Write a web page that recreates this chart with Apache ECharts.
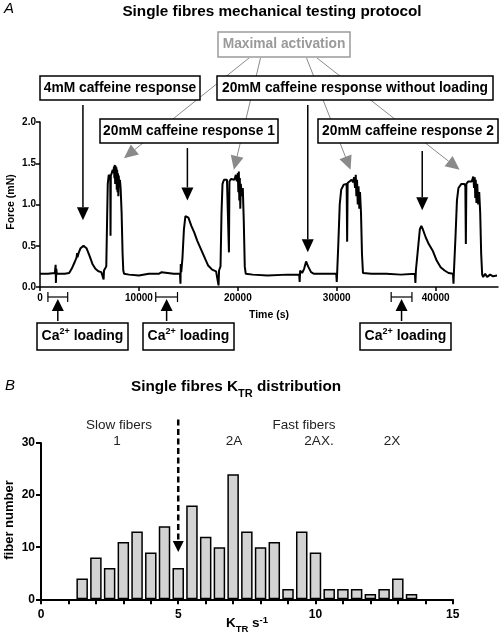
<!DOCTYPE html>
<html><head><meta charset="utf-8">
<script src="https://cdn.jsdelivr.net/npm/echarts@6/dist/echarts.min.js"></script>
<style>html,body{margin:0;padding:0;background:#fff}#c{width:500px;height:638px}</style>
</head><body><div id="c"></div>
<script>
// ---------- Panel A data: force trace ----------
const timeS = [0,800,1500,1580,1610,1650,1700,2500,2950,3200,3500,3700,3750,3790,3900,4100,4400,4700,5000,5300,5600,5900,6200,6400,6430,6470,6600,
6700,6780,6850,6950,7050,7100,7130,7160,7250,7350,7420,7480,7520,7560,7600,7640,7680,7720,7760,7800,7840,7880,7920,7960,8000,8080,8150,8250,8350,8420,8500,
9000,10000,11000,12000,12300,12400,13500,14150,14200,14230,14280,
14400,14550,14700,14850,15000,15300,15600,15900,16300,16700,17000,17400,17800,18000,18050,18100,
18250,18350,18450,18600,18900,19050,19100,19150,19300,19500,19650,19800,19900,20000,20050,20100,20150,20200,20250,20300,20400,20500,20600,20700,20800,
21500,23000,25000,26200,26250,26300,26500,26700,26900,27100,27400,27700,29000,29950,30000,30050,
30150,30300,30450,30700,30900,31000,31050,31100,31300,31500,31650,31750,31850,31920,31980,32050,32120,32200,32280,32350,32450,32550,32650,
33500,35000,36500,37900,37950,38000,
38200,38400,38550,38700,39000,39300,39700,40100,40500,40900,41300,41750,41800,41850,
42000,42150,42300,42600,42900,43000,43050,43100,43300,43500,43650,43800,43880,43950,44000,44050,44120,44200,44300,44400,44500,44600,44700,
44800,45000,45200,45500,45800,46200];
const forceMN = [0.16,0.16,0.17,0.27,0.05,0.22,0.16,0.16,0.17,0.22,0.30,0.36,0.41,0.36,0.41,0.47,0.50,0.47,0.38,0.28,0.22,0.19,0.18,0.17,0.09,0.20,0.20,
0.25,0.80,1.25,1.36,1.37,1.33,0.62,1.35,1.38,1.42,1.38,1.46,1.32,1.48,1.25,1.47,1.28,1.45,1.18,1.42,1.15,1.38,1.10,1.35,1.25,1.30,1.20,0.90,0.40,0.20,0.16,
0.15,0.14,0.16,0.16,0.18,0.16,0.16,0.16,0.04,0.28,0.18,
0.35,0.70,0.86,0.88,0.84,0.74,0.66,0.56,0.45,0.34,0.26,0.21,0.19,0.18,0.02,0.20,
0.25,0.90,1.25,1.30,1.30,1.28,0.42,1.28,1.31,1.32,1.30,1.36,1.28,1.38,1.15,1.40,1.05,1.32,0.95,1.25,1.10,1.20,0.80,0.25,0.16,
0.15,0.14,0.15,0.15,0.06,0.20,0.17,0.22,0.31,0.25,0.18,0.16,0.16,0.16,0.06,0.20,
0.50,1.00,1.18,1.24,1.25,1.25,0.55,1.26,1.28,1.30,1.27,1.33,1.20,1.36,1.10,1.30,1.00,1.22,0.95,1.15,0.90,0.40,0.17,
0.16,0.16,0.15,0.16,0.05,0.20,
0.45,0.70,0.74,0.70,0.60,0.52,0.44,0.32,0.24,0.20,0.17,0.16,0.04,0.20,
0.60,1.05,1.20,1.25,1.25,1.22,0.52,1.25,1.28,1.30,1.28,1.34,1.20,1.33,1.08,1.30,1.02,1.25,1.00,1.15,0.90,0.40,0.15,
0.12,0.16,0.12,0.15,0.13,0.14];
const timeTicks = [0,10000,20000,30000,40000];
const loadingIntervals = [[800,2800],[11700,13900],[35500,37600]];
// annotation targets in data coordinates [time, force]
const maxActivationTargets = [[8485,1.56],[19600,1.42],[31400,1.42],[42420,1.42]];
const caffeineTargets = [[4340,0.81],[14900,1.05],[27070,0.42],[38640,0.93]];

// ---------- Panel B data: KTR histogram ----------
const ktrBins = [1.5,2,2.5,3,3.5,4,4.5,5,5.5,6,6.5,7,7.5,8,8.5,9,9.5,10,10.5,11,11.5,12,12.5,13,13.5];
const fiberCounts = [4,8,6,11,13,9,14,6,18,12,10,24,13,10,11,2,13,9,2,2,2,1,2,4,1];
const ktrTicks = [0,1,2,3,4,5,6,7,8,9,10,11,12,13,14,15];
const ktrLabels = [0,5,10,15];
const fiberTypeLabels = ['1','2A','2AX.','2X'];

const FONT = '"Liberation Sans", Arial, sans-serif';
const chart = echarts.init(document.getElementById('c'));

chart.setOption({
  animation: false,
  grid: [
    {left: 40, top: 122, width: 458, height: 165},
    {left: 41, top: 443, width: 411.7, height: 156.3}
  ],
  xAxis: [
    {gridIndex: 0, type: 'value', min: 0, max: 46300,
     axisLine: {lineStyle: {color: '#000', width: 1.5}},
     axisTick: {customValues: timeTicks, length: 4, lineStyle: {color: '#000', width: 1.5}},
     axisLabel: {customValues: timeTicks, color: '#000', fontFamily: FONT, fontWeight: 'bold', fontSize: 10, margin: 6, formatter: v => String(v)},
     splitLine: {show: false}},
    {gridIndex: 1, type: 'value', min: 0, max: 15,
     axisLine: {lineStyle: {color: '#000', width: 2}},
     axisTick: {customValues: ktrTicks, length: 5, lineStyle: {color: '#000', width: 2}},
     axisLabel: {customValues: ktrLabels, color: '#000', fontFamily: FONT, fontWeight: 'bold', fontSize: 12, margin: 9, formatter: v => String(v)},
     splitLine: {show: false}}
  ],
  yAxis: [
    {gridIndex: 0, type: 'value', min: 0, max: 2, interval: 0.5,
     axisLine: {show: true, lineStyle: {color: '#000', width: 1.5}},
     axisTick: {show: true, length: 4, lineStyle: {color: '#000', width: 1.5}},
     axisLabel: {color: '#000', fontFamily: FONT, fontWeight: 'bold', fontSize: 10, margin: 4, formatter: v => v.toFixed(1)},
     splitLine: {show: false}},
    {gridIndex: 1, type: 'value', min: 0, max: 30, interval: 10,
     axisLine: {show: true, lineStyle: {color: '#000', width: 2}},
     axisTick: {show: true, length: 5, lineStyle: {color: '#000', width: 2}},
     axisLabel: {color: '#000', fontFamily: FONT, fontWeight: 'bold', fontSize: 12, margin: 6},
     splitLine: {show: false}}
  ],
  series: [
    {type: 'line', xAxisIndex: 0, yAxisIndex: 0, showSymbol: false, symbol: 'none',
     data: timeS.map((t, i) => [t, forceMN[i]]),
     lineStyle: {color: '#000', width: 2}},
    {type: 'bar', xAxisIndex: 1, yAxisIndex: 1, barWidth: 11.5,
     data: ktrBins.map((k, i) => [k, fiberCounts[i]]),
     itemStyle: {color: '#d3d3d3', borderColor: '#000', borderWidth: 1.5}}
  ]
});

function P(g, pt) { return chart.convertToPixel(g === 0 ? {xAxisIndex: 0, yAxisIndex: 0} : {xAxisIndex: 1, yAxisIndex: 1}, pt); }

function arrow(p1, p2, color, lw, headL, headW, z) {
  const dx = p2[0] - p1[0], dy = p2[1] - p1[1];
  const L = Math.hypot(dx, dy), ux = dx / L, uy = dy / L;
  const b = [p2[0] - ux * headL, p2[1] - uy * headL];
  const px = -uy * headW / 2, py = ux * headW / 2;
  return [
    {type: 'line', z: z, silent: true, shape: {x1: p1[0], y1: p1[1], x2: b[0], y2: b[1]}, style: {stroke: color, lineWidth: lw}},
    {type: 'polygon', z: z, silent: true, shape: {points: [[p2[0], p2[1]], [b[0] + px, b[1] + py], [b[0] - px, b[1] - py]]}, style: {fill: color}}
  ];
}
function box(x, y, w, h, text, color, opts) {
  opts = opts || {};
  return [
    {type: 'rect', z: 20, silent: true, shape: {x: x, y: y, width: w, height: h}, style: {fill: '#fff', stroke: color, lineWidth: 1.5}},
    {type: 'text', z: 21, silent: true, x: x + w / 2, y: y + h / 2 + (opts.dy || 0),
     style: Object.assign({text: text, fill: color, font: 'bold ' + (opts.size || 13.8) + 'px ' + FONT, align: 'center', verticalAlign: 'middle'}, opts.style || {})}
  ];
}
function txt(x, y, text, font, extra) {
  return {type: 'text', z: 30, silent: true, x: x, y: y,
    style: Object.assign({text: text, fill: '#000', font: font, align: 'center', verticalAlign: 'middle'}, extra || {})};
}

const g = [];
// titles
g.push(txt(9, 9, 'A', 'italic 15px ' + FONT));
g.push(txt(272, 12, 'Single fibres mechanical testing protocol', 'bold 15.3px ' + FONT));
g.push(txt(10, 386, 'B', 'italic 15px ' + FONT));
g.push(txt(236, 387, '{n|Single fibres K}{s|TR}{n| distribution}', 'bold 15.3px ' + FONT, {
  rich: {n: {fontFamily: FONT, fontWeight: 'bold', fontSize: 15.3, lineHeight: 18, fill: '#000'},
         s: {fontFamily: FONT, fontWeight: 'bold', fontSize: 11, lineHeight: 11, verticalAlign: 'bottom', fill: '#000', padding: [0,0,-3,0]}}}));
// axis names
g.push(txt(11, 202, 'Force (mN)', 'bold 10.5px ' + FONT, {}));
g[g.length - 1].rotation = Math.PI / 2;
g.push(txt(269, 315, 'Time (s)', 'bold 10.5px ' + FONT));
g.push(txt(9, 520, 'fiber number', 'bold 13px ' + FONT));
g[g.length - 1].rotation = Math.PI / 2;
g.push(txt(247, 623, '{n|K}{s|TR}{n| s}{u|-1}', 'bold 13px ' + FONT, {
  rich: {n: {fontFamily: FONT, fontWeight: 'bold', fontSize: 13.5, lineHeight: 16, fill: '#000'},
         s: {fontFamily: FONT, fontWeight: 'bold', fontSize: 9.5, lineHeight: 9, verticalAlign: 'bottom', fill: '#000', padding: [0,0,-3,0]},
         u: {fontFamily: FONT, fontWeight: 'bold', fontSize: 9.5, lineHeight: 9, verticalAlign: 'top', fill: '#000'}}}));

// gray arrows from "Maximal activation"
const grayStarts = [[249, 58], [260.5, 58], [306.5, 58], [317, 58]];
maxActivationTargets.forEach((d, i) => {
  g.push(...arrow(grayStarts[i], P(0, d), '#8a8a8a', 1, 14, 13, 10));
});
// boxes
g.push(...box(218, 32, 132, 25, 'Maximal activation', '#9a9a9a'));
g.push(...box(40, 76, 160, 24, '4mM caffeine response', '#000'));
g.push(...box(217, 76, 276, 24, '20mM caffeine response without loading', '#000'));
g.push(...box(100, 119, 178, 24, '20mM caffeine response 1', '#000'));
g.push(...box(318, 119, 180, 24, '20mM caffeine response 2', '#000'));
// black arrows to caffeine responses
const blackStartY = [105, 148, 105, 151];
caffeineTargets.forEach((d, i) => {
  const tip = P(0, d);
  g.push(...arrow([tip[0], blackStartY[i]], tip, '#000', 1.5, 13, 12, 25));
});
// Ca loading brackets, arrows and boxes
const caRich = {n: {fontFamily: FONT, fontWeight: 'bold', fontSize: 14, lineHeight: 18, fill: '#000'},
                s: {fontFamily: FONT, fontWeight: 'bold', fontSize: 9, lineHeight: 9, verticalAlign: 'top', fill: '#000'}};
const caBoxX = [37, 143, 360];
loadingIntervals.forEach((iv, i) => {
  const a = P(0, [iv[0], 0])[0], b = P(0, [iv[1], 0])[0];
  const y = 297, c = (a + b) / 2;
  g.push({type: 'polyline', z: 25, silent: true, shape: {points: [[a, y - 5], [a, y + 5]]}, style: {stroke: '#000', lineWidth: 1.2}});
  g.push({type: 'polyline', z: 25, silent: true, shape: {points: [[b, y - 5], [b, y + 5]]}, style: {stroke: '#000', lineWidth: 1.2}});
  g.push({type: 'line', z: 25, silent: true, shape: {x1: a, y1: y, x2: b, y2: y}, style: {stroke: '#000', lineWidth: 1.2}});
  g.push(...arrow([c, 321], [c, 299], '#000', 1.5, 12, 12, 25));
  g.push(...box(caBoxX[i], 323, 91, 27, '{n|Ca}{s|2+}{n| loading}', '#000', {style: {rich: caRich}}));
});

// Panel B annotations
const dTop = P(1, [5, 34.5]), dTip = P(1, [5, 9.1]);
g.push({type: 'line', z: 25, silent: true, shape: {x1: dTop[0], y1: dTop[1], x2: dTip[0], y2: dTip[1] - 10},
  style: {stroke: '#000', lineWidth: 2.5, lineDash: [6, 3.5]}});
g.push({type: 'polygon', z: 25, silent: true, shape: {points: [[dTip[0], dTip[1]], [dTip[0] - 5.5, dTip[1] - 11], [dTip[0] + 5.5, dTip[1] - 11]]}, style: {fill: '#000'}});
const NF = '13.5px ' + FONT;
g.push(txt(119, 425, 'Slow fibers', NF, {fill: '#222'}));
g.push(txt(304, 425, 'Fast fibers', NF, {fill: '#222'}));
const typeX = [117, 234, 319, 392];
fiberTypeLabels.forEach((s, i) => g.push(txt(typeX[i], 441, s, NF, {fill: '#222'})));

chart.setOption({graphic: {elements: g}});
</script></body></html>
